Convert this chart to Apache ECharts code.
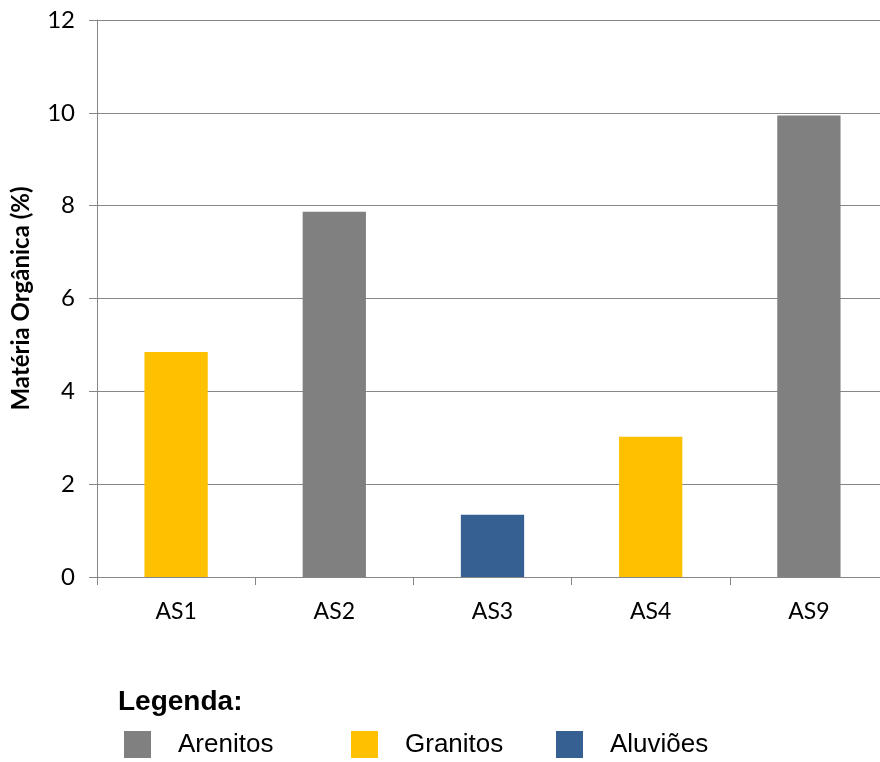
<!DOCTYPE html>
<html>
<head>
<meta charset="utf-8">
<script src="https://cdn.jsdelivr.net/npm/echarts@6/dist/echarts.min.js"></script>
<style>html,body{margin:0;padding:0;background:#fff}#c{width:880px;height:762px}</style>
</head>
<body>
<div id="c"></div>
<script>
const categories = ['AS1', 'AS2', 'AS3', 'AS4', 'AS9'];
const arenitos = ['-', 7.87, '-', '-', 9.94];
const granitos = [4.85, '-', '-', 3.02, '-'];
const aluvioes = ['-', '-', 1.34, '-', '-'];
const seriesNames = ['Arenitos', 'Granitos', 'Aluviões'];
const yTicks = { min: 0, max: 12, interval: 2 };
const yTitle = 'Matéria Orgânica (%)';
const legendTitle = 'Legenda:';

const colors = ['#808080', '#FFC000', '#376092'];
const tickFont = 'Lato, "Open Sans", sans-serif';
const chart = echarts.init(document.getElementById('c'), null, { renderer: 'canvas' });

const legendPos = [124, 351, 556];
chart.setOption({
  animation: false,
  backgroundColor: '#fff',
  title: {
    text: legendTitle, left: 113, top: 683,
    textStyle: { fontFamily: '"Liberation Sans", Arial, sans-serif', fontWeight: 'bold', fontSize: 28, color: '#000' }
  },
  legend: seriesNames.map((n, i) => ({
    data: [n], left: legendPos[i], top: 731, icon: 'rect', itemWidth: 27, itemHeight: 27, itemGap: 0,
    padding: 0,
    textStyle: { fontFamily: '"Liberation Sans", Arial, sans-serif', fontSize: 26, color: '#000', padding: [3, 0, 0, 22] },
    selectedMode: false
  })),
  grid: { left: 97, top: 20, width: 791, bottom: 185, containLabel: false, outerBoundsMode: 'none' },
  xAxis: {
    type: 'category', data: categories, boundaryGap: true,
    axisLine: { lineStyle: { color: '#868686', width: 1 } },
    axisTick: { show: true, length: 8, lineStyle: { color: '#868686' } },
    axisLabel: { color: '#000', fontFamily: tickFont, fontSize: 23, margin: 23 }
  },
  yAxis: {
    type: 'value', min: yTicks.min, max: yTicks.max, interval: yTicks.interval,
    name: yTitle, nameLocation: 'middle', nameGap: 64, nameRotate: 90,
    nameTextStyle: { fontFamily: 'Lato, "Open Sans", sans-serif', fontWeight: 'bold', fontSize: 24, color: '#000' },
    axisLine: { show: true, lineStyle: { color: '#868686', width: 1 } },
    axisTick: { show: true, length: 8, lineStyle: { color: '#868686' } },
    axisLabel: { color: '#000', fontFamily: tickFont, fontSize: 24, margin: 22 },
    splitLine: { show: true, lineStyle: { color: '#868686', width: 1 } }
  },
  series: [arenitos, granitos, aluvioes].map((d, i) => ({
    name: seriesNames[i], type: 'bar', stack: 'all', data: d, barWidth: '40%',
    itemStyle: { color: colors[i] }
  }))
});
</script>
</body>
</html>
